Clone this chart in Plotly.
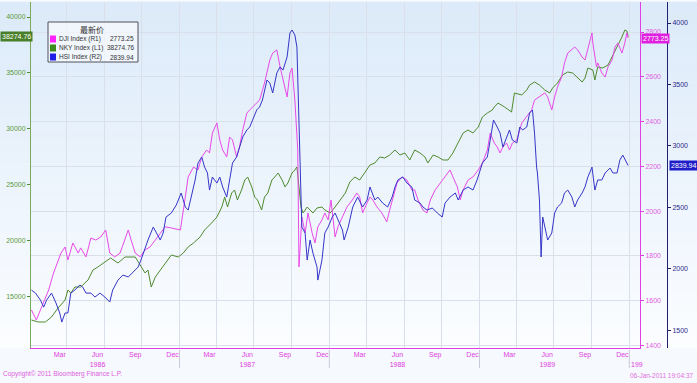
import plotly.graph_objects as go

# ---------------- data ----------------
dji_dates = ["1986-01-05","1986-01-17","1986-01-27","1986-02-16","1986-02-28","1986-03-18","1986-03-28","1986-04-04","1986-04-16","1986-04-29","1986-05-05","1986-05-18","1986-05-30","1986-06-11","1986-06-23","1986-07-05","1986-07-15","1986-07-27","1986-08-09","1986-08-21","1986-08-29","1986-09-05","1986-09-15","1986-09-27","1986-10-09","1986-10-21","1986-11-03","1986-11-15","1986-11-27","1986-12-12",
"1987-01-03","1987-01-15","1987-01-22","1987-02-04","1987-02-15","1987-02-24","1987-03-08","1987-03-15","1987-03-22","1987-04-02","1987-04-09","1987-04-16","1987-04-26","1987-05-03","1987-05-10","1987-05-20","1987-05-27","1987-06-04","1987-06-14","1987-06-21","1987-06-28","1987-07-08","1987-07-15","1987-07-27","1987-08-09","1987-08-16","1987-08-26","1987-09-03","1987-09-10","1987-09-20","1987-09-27","1987-10-02","1987-10-09","1987-10-16","1987-10-19","1987-10-26","1987-11-03","1987-11-10","1987-11-20","1987-11-27","1987-12-04","1987-12-14","1987-12-21","1987-12-29",
"1988-01-05","1988-01-15","1988-01-22","1988-02-02","1988-02-13","1988-02-26","1988-03-08","1988-03-15","1988-03-22","1988-04-02","1988-04-09","1988-04-16","1988-04-26","1988-05-08","1988-05-20","1988-05-27","1988-06-04","1988-06-14","1988-06-26","1988-07-08","1988-07-20","1988-07-27","1988-08-04","1988-08-16","1988-08-26","1988-09-03","1988-09-15","1988-09-27","1988-10-09","1988-10-21","1988-10-28","1988-11-08","1988-11-15","1988-11-22","1988-12-04","1988-12-16","1988-12-29",
"1989-01-08","1989-01-20","1989-01-27","1989-02-06","1989-02-13","1989-02-20","1989-02-27","1989-03-08","1989-03-15","1989-03-22","1989-04-02","1989-04-14","1989-04-26","1989-05-08","1989-05-15","1989-05-27","1989-06-09","1989-06-16","1989-06-26","1989-07-03","1989-07-10","1989-07-20","1989-07-27","1989-08-04","1989-08-14","1989-08-21","1989-08-28","1989-09-08","1989-09-15","1989-09-22","1989-10-02","1989-10-04","1989-10-13","1989-10-16","1989-10-26","1989-11-03","1989-11-10","1989-11-20","1989-11-27","1989-12-04","1989-12-14","1989-12-21","1989-12-26","1989-12-29"]
dji_values = [1559,1514,1559,1648,1724,1813,1840,1782,1858,1813,1836,1796,1880,1871,1885,1916,1813,1796,1813,1871,1916,1871,1813,1796,1827,1840,1871,1903,1930,1925,
1916,2063,2153,2197,2184,2242,2273,2260,2349,2394,2318,2273,2242,2331,2318,2242,2287,2363,2438,2452,2465,2483,2496,2572,2675,2706,2720,2644,2586,2510,2617,2639,2496,2273,1751,1974,1903,1992,1903,1858,1930,1961,1992,1961,
2050,1885,1930,1974,2019,2050,2081,2063,1992,2037,2063,2050,2019,1992,1952,2005,2063,2126,2153,2139,2095,2095,2050,2005,1992,2050,2095,2126,2153,2184,2153,2108,2050,2095,2139,2153,2184,
2215,2273,2349,2304,2287,2260,2287,2304,2273,2304,2318,2394,2421,2452,2496,2510,2528,2510,2452,2510,2554,2599,2662,2706,2720,2733,2720,2688,2675,2720,2796,2751,2644,2662,2617,2599,2644,2675,2733,2751,2706,2751,2796,2773.25]

nky_dates = ["1986-01-05","1986-01-22","1986-02-08","1986-02-23","1986-03-11","1986-03-28","1986-04-04","1986-04-11","1986-04-21","1986-05-05","1986-05-23","1986-06-04","1986-06-16","1986-07-03","1986-07-17","1986-08-04","1986-08-21","1986-09-15","1986-09-29","1986-10-09","1986-10-16","1986-10-24","1986-11-03","1986-11-15","1986-11-27","1986-12-12","1986-12-29",
"1987-01-10","1987-01-22","1987-02-04","1987-02-20","1987-03-03","1987-03-20","1987-04-02","1987-04-14","1987-04-21","1987-04-28","1987-05-08","1987-05-15","1987-05-22","1987-06-01","1987-06-09","1987-06-16","1987-06-26","1987-07-03","1987-07-10","1987-07-20","1987-07-27","1987-08-04","1987-08-14","1987-08-21","1987-08-29","1987-09-08","1987-09-15","1987-09-22","1987-10-02","1987-10-09","1987-10-14","1987-10-19","1987-10-24","1987-10-29","1987-11-08","1987-11-15","1987-11-22","1987-12-02","1987-12-14","1987-12-21",
"1988-01-03","1988-01-15","1988-01-27","1988-02-09","1988-02-20","1988-03-03","1988-03-15","1988-03-27","1988-04-09","1988-04-21","1988-05-03","1988-05-15","1988-05-27","1988-06-09","1988-06-21","1988-07-03","1988-07-15","1988-07-27","1988-08-09","1988-08-21","1988-08-28","1988-09-10","1988-09-22","1988-10-04","1988-10-16","1988-10-28","1988-11-10","1988-11-22","1988-12-04","1988-12-16","1988-12-29",
"1989-01-08","1989-01-20","1989-02-01","1989-02-06","1989-02-15","1989-03-03","1989-03-20","1989-03-27","1989-04-14","1989-04-26","1989-05-03","1989-05-15","1989-05-27","1989-06-09","1989-06-21","1989-06-28","1989-07-10","1989-07-22","1989-08-04","1989-08-16","1989-08-28","1989-09-08","1989-09-15","1989-09-22","1989-10-04","1989-10-09","1989-10-16","1989-10-28","1989-11-10","1989-11-20","1989-12-02","1989-12-14","1989-12-21","1989-12-26","1989-12-29"]
nky_values = [12945,12767,12767,13213,14017,14731,15624,15356,15892,15892,16517,17410,17678,18124,18481,18035,18570,18570,17678,17142,17410,15892,16785,17410,18035,18749,18570,
18928,19463,19821,20357,20981,21606,22143,23035,23928,23035,24285,24553,23660,24553,25446,25714,24821,23928,23660,22767,23928,24285,25446,25714,26071,25446,24821,25178,26071,26339,26607,24821,23035,22500,23035,22767,22500,22946,23035,22767,
22500,23035,23660,24285,25267,25714,25446,26071,26786,26964,27500,27410,27678,28125,27678,27857,27232,28125,27857,27500,26964,27678,27500,27232,27232,27857,28750,29643,29910,29643,30178,
31071,31428,31696,31964,32321,31964,31517,33214,33036,33482,33928,34196,33928,33482,33214,33660,34107,34821,35089,35000,34553,34196,34553,35446,35268,34375,35536,35446,35714,36428,37321,38214,38839,38750,38274.76]

hsi_dates = ["1986-01-05","1986-01-15","1986-01-27","1986-02-04","1986-02-11","1986-02-23","1986-03-06","1986-03-15","1986-03-20","1986-03-28","1986-04-04","1986-04-11","1986-04-21","1986-05-03","1986-05-10","1986-05-18","1986-05-30","1986-06-09","1986-06-21","1986-07-03","1986-07-15","1986-07-22","1986-08-04","1986-08-16","1986-08-29","1986-09-10","1986-09-22","1986-09-29","1986-10-09","1986-10-16","1986-10-29","1986-11-05","1986-11-15","1986-11-22","1986-11-29","1986-12-12","1986-12-24",
"1987-01-05","1987-01-15","1987-01-22","1987-02-01","1987-02-08","1987-02-15","1987-02-24","1987-03-03","1987-03-10","1987-03-15","1987-03-22","1987-04-02","1987-04-09","1987-04-16","1987-04-26","1987-05-03","1987-05-10","1987-05-20","1987-05-27","1987-06-04","1987-06-14","1987-06-21","1987-06-28","1987-07-08","1987-07-15","1987-07-22","1987-08-02","1987-08-09","1987-08-16","1987-08-26","1987-09-03","1987-09-10","1987-09-20","1987-09-27","1987-10-02","1987-10-09","1987-10-14","1987-10-26","1987-11-03","1987-11-08","1987-11-15","1987-11-22","1987-12-02","1987-12-04","1987-12-14","1987-12-21","1987-12-29",
"1988-01-08","1988-01-15","1988-01-22","1988-02-02","1988-02-06","1988-02-16","1988-02-27","1988-03-10","1988-03-22","1988-04-02","1988-04-09","1988-04-21","1988-04-28","1988-05-10","1988-05-22","1988-06-02","1988-06-09","1988-06-16","1988-06-28","1988-07-08","1988-07-20","1988-07-27","1988-08-09","1988-08-16","1988-08-26","1988-09-08","1988-09-20","1988-10-02","1988-10-09","1988-10-21","1988-11-03","1988-11-10","1988-11-22","1988-12-04","1988-12-16","1988-12-26",
"1989-01-08","1989-01-20","1989-01-27","1989-02-04","1989-02-13","1989-02-20","1989-02-27","1989-03-08","1989-03-15","1989-03-22","1989-04-02","1989-04-09","1989-04-16","1989-04-26","1989-05-03","1989-05-10","1989-05-15","1989-05-20","1989-05-22","1989-05-27","1989-05-31","1989-06-04","1989-06-09","1989-06-16","1989-06-26","1989-07-03","1989-07-10","1989-07-20","1989-07-27","1989-08-04","1989-08-14","1989-08-21","1989-08-28","1989-09-08","1989-09-15","1989-09-22","1989-10-02","1989-10-09","1989-10-16","1989-10-26","1989-11-03","1989-11-15","1989-11-22","1989-12-02","1989-12-09","1989-12-16","1989-12-26","1989-12-29"]
hsi_values = [1826,1801,1744,1687,1744,1801,1720,1639,1565,1639,1639,1801,1826,1867,1850,1801,1801,1769,1801,1769,1728,1826,1907,1948,1932,1972,2013,2070,2176,2233,2339,2290,2233,2290,2420,2453,2518,
2616,2502,2477,2616,2722,2860,2909,2827,2779,2640,2746,2697,2746,2665,2583,2722,2860,2909,2990,3072,3129,3153,3210,3292,3316,3373,3536,3511,3430,3593,3642,3617,3723,3919,3943,3902,3805,2339,2290,2070,2233,2127,2013,1907,2070,2290,2339,
2420,2453,2396,2314,2233,2339,2502,2583,2502,2559,2665,2559,2583,2534,2502,2583,2665,2722,2746,2697,2665,2559,2534,2502,2477,2494,2453,2420,2534,2583,2616,2559,2640,2665,2640,2722,
2860,2909,3047,3210,3153,3104,2990,3072,3129,3047,3023,3153,3129,3153,3267,3292,3104,2827,2779,2559,2095,2420,2339,2233,2290,2453,2502,2534,2616,2640,2583,2502,2559,2616,2665,2746,2827,2640,2722,2722,2779,2819,2779,2779,2884,2925,2860,2839.94]

legend_names = ["DJI Index (R1)", "NKY Index (L1)", "HSI Index (R2)"]
legend_values = ["2773.25", "38274.76", "2839.94"]
legend_title = "最新价"

month_tick_vals = []
month_tick_text = []
for yr in [1986, 1987, 1988, 1989]:
    for mo, name in [(3, "Mar"), (6, "Jun"), (9, "Sep"), (12, "Dec")]:
        month_tick_vals.append(f"{yr}-{mo:02d}-15")
        month_tick_text.append(f"{name}<br>{yr}" if mo == 6 else name)
year_starts = ["1987-01-01", "1988-01-01", "1989-01-01", "1990-01-01"]

# ---------------- styling ----------------
W, H = 697, 383
ML, MR, MT, MB = 31, 30, 2, 35
PW, PH = W - ML - MR, H - MT - MB
def px_x(px):
    return (px - ML) / PW
def px_y(py):
    return 1 - (py - MT) / PH

C_DJI = "#e849e8"
C_NKY = "#4f8a2e"
C_HSI = "#3535c8"
C_MAG_AX = "#e040e0"
C_GRN_AX = "#7aaa5c"
C_BLU_AX = "#20206e"
FONT = "Liberation Sans"

fig = go.Figure()
fig.add_trace(go.Scatter(x=dji_dates, y=dji_values, yaxis="y2", mode="lines",
                         line=dict(color=C_DJI, width=1), showlegend=False))
fig.add_trace(go.Scatter(x=nky_dates, y=nky_values, yaxis="y", mode="lines",
                         line=dict(color=C_NKY, width=1), showlegend=False))
fig.add_trace(go.Scatter(x=hsi_dates, y=hsi_values, yaxis="y3", mode="lines",
                         line=dict(color=C_HSI, width=1), showlegend=False))

shapes = []
# vertical gradient background
n = 30
top = (220, 234, 249)
bot = (251, 253, 255)
for i in range(n):
    t = i / (n - 1)
    c = tuple(round(top[k] + (bot[k] - top[k]) * t) for k in range(3))
    shapes.append(dict(type="rect", xref="paper", yref="paper", layer="below",
                       x0=-ML / PW, x1=1 + MR / PW, y0=1 - (i + 1) / n, y1=1 - i / n + 0.02 / n,
                       fillcolor=f"rgb{c}", line=dict(width=0)))
# year separators under the axis
for ys in year_starts:
    shapes.append(dict(type="line", xref="x", yref="paper", x0=ys, x1=ys,
                       y0=px_y(350), y1=px_y(368), line=dict(color="#c8c8d8", width=1)))
# legend box
shapes.append(dict(type="rect", xref="paper", yref="paper", x0=px_x(48), x1=px_x(138),
                   y0=px_y(62), y1=px_y(22), line=dict(color="#50505a", width=1),
                   fillcolor="rgba(255,255,255,0.55)"))
legend_colors = ["#ff22ff", "#3c8a1e", "#1e1ee6"]
row_y = [39, 48, 57]
for col, ry in zip(legend_colors, row_y):
    shapes.append(dict(type="rect", xref="paper", yref="paper", x0=px_x(50), x1=px_x(56),
                       y0=px_y(ry + 3.5), y1=px_y(ry - 3.5), fillcolor=col,
                       line=dict(width=0)))

annotations = []
annotations.append(dict(text=legend_title, xref="paper", yref="paper", x=px_x(92), y=px_y(30),
                        showarrow=False, font=dict(size=8, color="#333", family="Noto Sans CJK SC"),
                        xanchor="center", yanchor="middle"))
for name, val, ry in zip(legend_names, legend_values, row_y):
    annotations.append(dict(text=name, xref="paper", yref="paper", x=px_x(57), y=px_y(ry),
                            showarrow=False, xanchor="left", yanchor="middle",
                            font=dict(size=6.5, color="#333", family=FONT)))
    annotations.append(dict(text=val, xref="paper", yref="paper", x=px_x(136), y=px_y(ry),
                            showarrow=False, xanchor="right", yanchor="middle",
                            font=dict(size=6.5, color="#333", family=FONT)))
# last-value tags
annotations.append(dict(text=legend_values[1], xref="paper", yref="y", x=px_x(0), y=nky_values[-1],
                        showarrow=False, xanchor="left", yanchor="middle", bgcolor="#4a7f2a",
                        borderpad=1, font=dict(size=7, color="white", family=FONT)))
annotations.append(dict(text=legend_values[0], xref="paper", yref="y2", x=px_x(641), y=dji_values[-1],
                        showarrow=False, xanchor="left", yanchor="middle", bgcolor="#e020e0",
                        borderpad=1, font=dict(size=7, color="white", family=FONT)))
annotations.append(dict(text=legend_values[2], xref="paper", yref="y3", x=px_x(669), y=hsi_values[-1],
                        showarrow=False, xanchor="left", yanchor="middle", bgcolor="#1e1ec8",
                        borderpad=1, font=dict(size=7, color="white", family=FONT)))
# truncated 1990 year label
annotations.append(dict(text="199", xref="x", yref="paper", x="1990-01-01", y=px_y(364),
                        showarrow=False, xanchor="left", yanchor="middle",
                        font=dict(size=7, color=C_MAG_AX, family=FONT)))
annotations.append(dict(text="Copyright\u00a9 2011 Bloomberg Finance L.P.", xref="paper", yref="paper",
                        x=px_x(1), y=px_y(374), showarrow=False, xanchor="left", yanchor="middle",
                        font=dict(size=6.5, color="#e060e0", family=FONT)))
annotations.append(dict(text="06-Jan-2011 19:04:37", xref="paper", yref="paper",
                        x=px_x(696), y=px_y(375), showarrow=False, xanchor="right", yanchor="middle",
                        font=dict(size=6.5, color="#e070e0", family=FONT)))

fig.update_layout(
    width=W, height=H,
    margin=dict(l=ML, r=MR, t=MT, b=MB, pad=0),
    paper_bgcolor="#f6f9fd",
    plot_bgcolor="rgba(0,0,0,0)",
    font=dict(family=FONT, size=7),
    showlegend=False,
    shapes=shapes,
    annotations=annotations,
    xaxis=dict(
        domain=[0, (640 - ML) / PW],
        type="date",
        range=["1986-01-04", "1990-01-27"],
        tickmode="array", tickvals=month_tick_vals, ticktext=month_tick_text,
        tickfont=dict(size=7, color=C_MAG_AX, family=FONT),
        ticks="", showgrid=False, zeroline=False,
        showline=True, linecolor=C_MAG_AX, linewidth=1,
        minor=dict(tick0="1986-01-01", dtick="M3", showgrid=True,
                   gridcolor="#d9e0ea", gridwidth=1, ticks=""),
    ),
    yaxis=dict(
        range=[10445, 41339], tick0=0, dtick=5000, tickformat="d",
        side="left", showgrid=False, zeroline=False,
        showline=True, linecolor=C_GRN_AX, linewidth=1,
        ticks="outside", ticklen=3, tickcolor=C_NKY,
        tickfont=dict(size=7, color="#5f9a3c", family=FONT),
    ),
    yaxis2=dict(
        range=[1389, 2934], tick0=0, dtick=200, tickformat="d",
        overlaying="y", side="right", anchor="x",
        showgrid=True, gridcolor="#d9e0ea", gridwidth=1, zeroline=False,
        showline=True, linecolor=C_MAG_AX, linewidth=1,
        ticks="outside", ticklen=3, tickcolor=C_MAG_AX,
        tickfont=dict(size=7, color="#e060e0", family=FONT),
    ),
    yaxis3=dict(
        range=[1354, 4171], tick0=0, dtick=500, tickformat="d",
        overlaying="y", side="right", anchor="free", position=1,
        showgrid=False, zeroline=False,
        showline=True, linecolor=C_BLU_AX, linewidth=1,
        ticks="outside", ticklen=3, tickcolor=C_BLU_AX,
        tickfont=dict(size=7, color="#2a2a8a", family=FONT),
    ),
)

fig.write_html("out.html")
